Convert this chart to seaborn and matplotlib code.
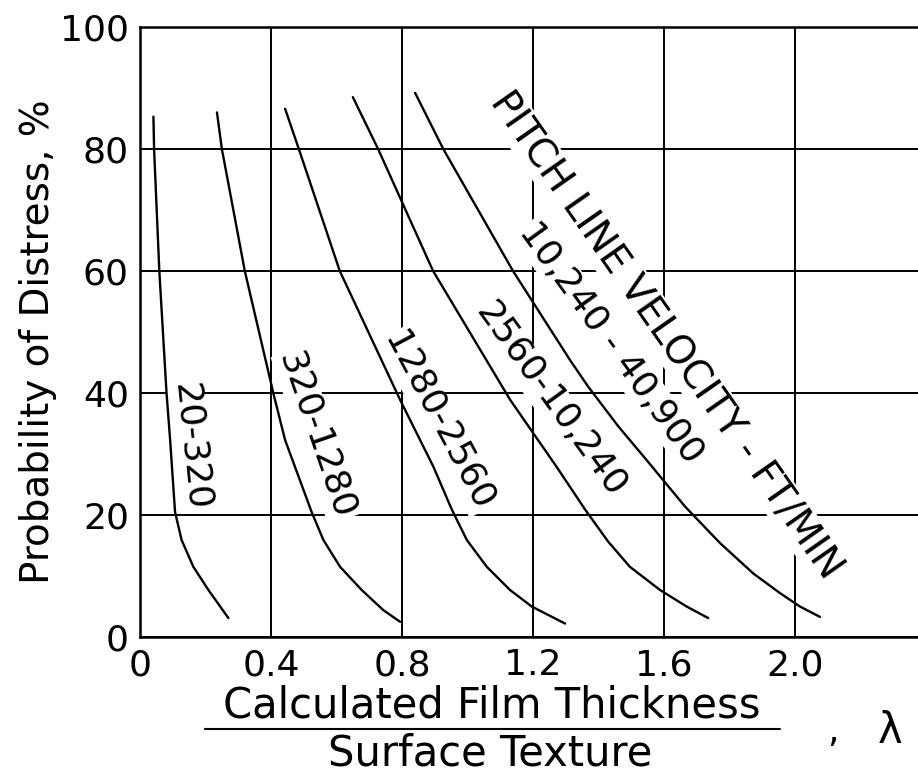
import matplotlib
matplotlib.use("Agg")
import matplotlib.pyplot as plt
from matplotlib.lines import Line2D
import seaborn as sns
import pandas as pd

# ---- data ----
x_ticks = [0, 0.4, 0.8, 1.2, 1.6, 2.0]
x_tick_labels = ["0", "0.4", "0.8", "1.2", "1.6", "2.0"]
y_ticks = [0, 20, 40, 60, 80, 100]
y_tick_labels = ["0", "20", "40", "60", "80", "100"]

c1_x = [0.041, 0.043, 0.059, 0.081, 0.092, 0.107, 0.127, 0.163, 0.209, 0.270]
c1_y = [85.3, 80.0, 60.0, 40.0, 32.3, 20.5, 15.9, 11.5, 7.7, 3.1]

c2_x = [0.235, 0.250, 0.320, 0.407, 0.443, 0.524, 0.560, 0.611, 0.677, 0.743, 0.794]
c2_y = [86.0, 80.0, 60.0, 40.0, 32.3, 20.5, 15.9, 11.5, 7.7, 4.4, 2.5]

c3_x = [0.443, 0.485, 0.610, 0.794, 0.845, 0.896, 0.952, 0.998, 1.059, 1.130, 1.196, 1.298]
c3_y = [86.6, 80.0, 60.0, 38.9, 33.4, 27.9, 20.9, 15.9, 11.5, 7.7, 5.0, 2.2]

c4_x = [0.650, 0.727, 0.895, 1.130, 1.201, 1.272, 1.359, 1.430, 1.496, 1.588, 1.669, 1.735]
c4_y = [88.5, 80.0, 60.0, 38.9, 33.4, 27.9, 20.9, 15.6, 11.5, 7.7, 5.0, 3.1]

c5_x = [0.840, 0.926, 1.139, 1.313, 1.369, 1.461, 1.547, 1.664, 1.771, 1.873, 1.954, 2.015, 2.076]
c5_y = [89.2, 80.0, 60.0, 45.4, 41.0, 34.5, 29.0, 21.4, 15.4, 10.4, 7.2, 5.0, 3.3]

series_names = ["20-320", "320-1280", "1280-2560", "2560-10,240", "10,240 - 40,900"]

rows = []
for name, xs, ys in zip(series_names,
                        [c1_x, c2_x, c3_x, c4_x, c5_x],
                        [c1_y, c2_y, c3_y, c4_y, c5_y]):
    for i, (xv, yv) in enumerate(zip(xs, ys)):
        rows.append({"series": name, "order": i, "lam": xv, "prob": yv})
df = pd.DataFrame(rows)

# ---- style ----
sns.set_theme(style="white")
plt.rcParams["font.family"] = ["DejaVu Sans"]

fig = plt.figure(figsize=(9.18, 7.73), dpi=100)
ax = fig.add_axes([140 / 918, 1 - 637 / 773, 1 - 140 / 918, (637 - 27) / 773])

for name in series_names:
    sub = df[df["series"] == name]
    sns.lineplot(data=sub, x="lam", y="prob", ax=ax, color="black",
                 linewidth=1.7, sort=False, estimator=None, zorder=5,
                 legend=False)

ax.set_xlim(0, (918 - 140) / 327.5)
ax.set_ylim(0, 100)
ax.set_xticks(x_ticks)
ax.set_xticklabels(x_tick_labels)
ax.set_yticks(y_ticks)
ax.set_yticklabels(y_tick_labels)
ax.tick_params(axis="both", length=0, labelsize=26, colors="black")
ax.tick_params(axis="x", pad=8)
ax.tick_params(axis="y", pad=8)
ax.set_xlabel("")
ax.set_ylabel("")

ax.grid(True, color="black", linewidth=1.4, zorder=0)
ax.set_axisbelow(True)
for side in ["left", "bottom", "top"]:
    ax.spines[side].set_visible(True)
    ax.spines[side].set_color("black")
    ax.spines[side].set_linewidth(1.8)
ax.spines["right"].set_visible(False)

# inline curve labels: text, x, y, rotation, size
labels = [
    ("20-320", 0.156, 31.3, -84, 26),
    ("320-1280", 0.540, 33.1, -71, 26),
    ("1280-2560", 0.913, 35.4, -62, 26),
    ("2560-10,240", 1.255, 38.9, -54, 26),
    ("10,240 - 40,900", 1.438, 48.2, -54, 26),
    ("PITCH LINE VELOCITY - FT/MIN", 1.606, 49.5, -55, 28),
]
for txt, lx, ly, rot, fs in labels:
    ax.text(lx, ly, txt, rotation=rot, rotation_mode="anchor",
            ha="center", va="center", fontsize=fs, color="black", zorder=3,
            bbox=dict(facecolor="white", edgecolor="none", pad=1.0))

# y label
fig.text(38 / 918, 1 - 342 / 773, "Probability of Distress, %", rotation=90,
         ha="center", va="center", fontsize=28, color="black")

# x label as fraction
fig.text(492 / 918, 1 - 718 / 773, "Calculated Film Thickness",
         ha="center", va="baseline", fontsize=30, color="black")
fig.add_artist(Line2D([205 / 918, 780 / 918], [1 - 729 / 773, 1 - 729 / 773],
                      color="black", linewidth=1.5, transform=fig.transFigure))
fig.text(490 / 918, 1 - 765 / 773, "Surface Texture",
         ha="center", va="baseline", fontsize=30, color="black")
fig.text(833 / 918, 1 - 742 / 773, ",", ha="center", va="baseline",
         fontsize=26, color="black")
fig.text(890 / 918, 1 - 743 / 773, "λ", ha="center", va="baseline",
         fontsize=30, color="black")

fig.savefig("out.png", dpi=100, facecolor="white")
